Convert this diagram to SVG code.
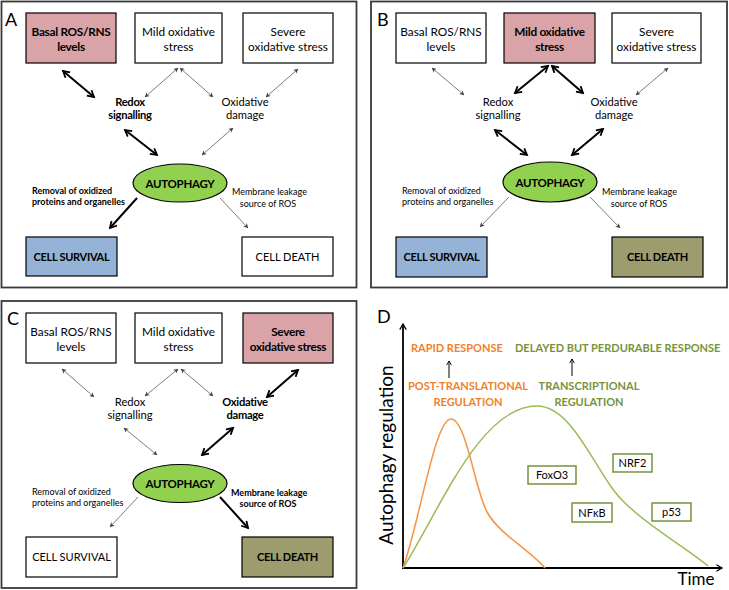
<svg xmlns="http://www.w3.org/2000/svg" width="729" height="590" viewBox="0 0 729 590">
<style>
text{font-family:Lato,"Open Sans","Liberation Sans",sans-serif;fill:#000}
.panel{fill:#fff;stroke:#3a3a3a;stroke-width:1.8}
.box{stroke:#000;stroke-width:1.2}
.w{fill:#fff}.pink{fill:#D9A3A7}.blue{fill:#95B3D7}.olive{fill:#9D9C6E}
.ell{fill:#92D050;stroke:#000;stroke-width:1.2}
.bt{font-size:11.8px;text-anchor:middle}
.ct{font-size:11px;text-anchor:middle}
.lb{font-size:11.2px;text-anchor:middle}
.sm{font-size:9px}
.b{font-weight:bold;letter-spacing:-0.3px}
.sm.b{letter-spacing:0}
.plab{font-size:18px}
.thin{stroke:#444;stroke-width:0.7;fill:none;marker-start:url(#hs);marker-end:url(#hs)}
.thick{stroke:#000;stroke-width:2;fill:none;marker-start:url(#hb);marker-end:url(#hb)}
.thin1{stroke:#444;stroke-width:0.7;fill:none;marker-end:url(#hs)}
.thick1{stroke:#000;stroke-width:2;fill:none;marker-end:url(#hb)}
.or{fill:#F07F2A}.gr{fill:#77933C}
.dt{font-size:11px;font-weight:bold}
.gbox{fill:#fff;stroke:#77933C;stroke-width:1.5}
</style>
<defs>
<marker id="hs" viewBox="0 0 10 10" refX="9" refY="5" markerWidth="5" markerHeight="5" markerUnits="userSpaceOnUse" orient="auto-start-reverse"><path d="M0,0 L10,5 L0,10 L3,5 z" fill="#444"/></marker>
<marker id="hb" viewBox="0 0 10 10" refX="8" refY="5" markerWidth="9" markerHeight="9" markerUnits="userSpaceOnUse" orient="auto-start-reverse"><path d="M1,1 L8,5 L1,9" fill="none" stroke="#000" stroke-width="2"/></marker>
<marker id="ax" viewBox="0 0 10 10" refX="8" refY="5" markerWidth="8" markerHeight="8" markerUnits="userSpaceOnUse" orient="auto"><path d="M1,1 L8,5 L1,9" fill="none" stroke="#000" stroke-width="1.6"/></marker>
<marker id="sa" viewBox="0 0 10 10" refX="8" refY="5" markerWidth="6" markerHeight="6" markerUnits="userSpaceOnUse" orient="auto"><path d="M1,1 L8,5 L1,9" fill="none" stroke="#000" stroke-width="1.5"/></marker>
</defs>

<!-- Panel A -->
<g id="panelA">
<rect class="panel" x="1.5" y="1.5" width="355" height="286"/>
<text class="plab" x="5" y="26">A</text>
<g id="A-basal"><rect class="box pink" x="26" y="13" width="90" height="50"/><text class="bt b" x="71" y="36">Basal ROS/RNS</text><text class="bt b" x="71" y="51">levels</text></g>
<g id="A-mild"><rect class="box w" x="135" y="13" width="87" height="50"/><text class="bt" x="178.5" y="36">Mild oxidative</text><text class="bt" x="178.5" y="51">stress</text></g>
<g id="A-severe"><rect class="box w" x="243" y="13" width="90" height="50"/><text class="bt" x="288" y="36">Severe</text><text class="bt" x="288" y="51">oxidative stress</text></g>
<g id="A-redox"><text class="lb b" x="130" y="105.5">Redox</text><text class="lb b" x="130" y="119">signalling</text></g>
<g id="A-damage"><text class="lb" x="245" y="105.5">Oxidative</text><text class="lb" x="245" y="119">damage</text></g>
<g id="A-autophagy"><ellipse class="ell" cx="180" cy="183" rx="47" ry="19"/><text class="b" x="180" y="187.5" font-size="11.5" text-anchor="middle">AUTOPHAGY</text></g>
<g id="A-removal"><text class="sm b" x="32" y="194">Removal of oxidized</text><text class="sm b" x="32" y="205">proteins and organelles</text></g>
<g id="A-membrane"><text class="sm" x="232" y="195">Membrane leakage</text><text class="sm" x="268" y="207" text-anchor="middle">source of ROS</text></g>
<g id="A-survival"><rect class="box blue" x="26" y="237" width="91" height="39"/><text class="ct b" x="71.5" y="260.5">CELL SURVIVAL</text></g>
<g id="A-death"><rect class="box w" x="242" y="237" width="91" height="39"/><text class="ct" x="287.5" y="260.5">CELL DEATH</text></g>
<g id="A-connectors">
<line class="thick" x1="63" y1="71" x2="94" y2="97"/>
<line class="thin" x1="178" y1="68" x2="145" y2="97"/>
<line class="thin" x1="180" y1="68" x2="213" y2="97"/>
<line class="thin" x1="298" y1="69" x2="266" y2="97"/>
<line class="thick" x1="125" y1="130" x2="157" y2="155"/>
<line class="thin" x1="233" y1="128" x2="202" y2="155"/>
<line class="thick1" x1="137" y1="198" x2="110" y2="228"/>
<line class="thin1" x1="220" y1="198" x2="248" y2="228"/>
</g>
</g>

<!-- Panel B -->
<g id="panelB">
<rect class="panel" x="371" y="1.5" width="356" height="286"/>
<text class="plab" x="377" y="26">B</text>
<g id="B-basal"><rect class="box w" x="396" y="13" width="90" height="50"/><text class="bt" x="441" y="36">Basal ROS/RNS</text><text class="bt" x="441" y="51">levels</text></g>
<g id="B-mild"><rect class="box pink" x="504" y="13" width="91" height="50"/><text class="bt b" x="549.5" y="36">Mild oxidative</text><text class="bt b" x="549.5" y="51">stress</text></g>
<g id="B-severe"><rect class="box w" x="612" y="13" width="89" height="50"/><text class="bt" x="656.5" y="36">Severe</text><text class="bt" x="656.5" y="51">oxidative stress</text></g>
<g id="B-redox"><text class="lb" x="498" y="105.5">Redox</text><text class="lb" x="498" y="119">signalling</text></g>
<g id="B-damage"><text class="lb" x="614" y="105.5">Oxidative</text><text class="lb" x="614" y="119">damage</text></g>
<g id="B-autophagy"><ellipse class="ell" cx="550" cy="182" rx="47" ry="20"/><text class="b" x="550" y="186.5" font-size="11.5" text-anchor="middle">AUTOPHAGY</text></g>
<g id="B-removal"><text class="sm" x="402" y="194">Removal of oxidized</text><text class="sm" x="402" y="205">proteins and organelles</text></g>
<g id="B-membrane"><text class="sm" x="602" y="195">Membrane leakage</text><text class="sm" x="639" y="207" text-anchor="middle">source of ROS</text></g>
<g id="B-survival"><rect class="box blue" x="396" y="237" width="91" height="40"/><text class="ct b" x="441.5" y="261">CELL SURVIVAL</text></g>
<g id="B-death"><rect class="box olive" x="612" y="237" width="91" height="40"/><text class="ct b" x="657.5" y="261">CELL DEATH</text></g>
<g id="B-connectors">
<line class="thin" x1="432" y1="68" x2="464" y2="95"/>
<line class="thick" x1="548" y1="66" x2="515" y2="93"/>
<line class="thick" x1="552" y1="66" x2="583" y2="93"/>
<line class="thin" x1="668" y1="68" x2="636" y2="95"/>
<line class="thick" x1="495" y1="130" x2="527" y2="155"/>
<line class="thick" x1="603" y1="129" x2="572" y2="155"/>
<line class="thin1" x1="509" y1="197" x2="480" y2="227"/>
<line class="thin1" x1="590" y1="197" x2="620" y2="228"/>
</g>
</g>

<!-- Panel C -->
<g id="panelC">
<rect class="panel" x="1.5" y="301" width="355" height="287"/>
<text class="plab" x="7" y="325">C</text>
<g id="C-basal"><rect class="box w" x="26" y="313" width="90" height="50"/><text class="bt" x="71" y="336">Basal ROS/RNS</text><text class="bt" x="71" y="351">levels</text></g>
<g id="C-mild"><rect class="box w" x="135" y="313" width="87" height="50"/><text class="bt" x="178.5" y="336">Mild oxidative</text><text class="bt" x="178.5" y="351">stress</text></g>
<g id="C-severe"><rect class="box pink" x="243" y="313" width="90" height="50"/><text class="bt b" x="288" y="336">Severe</text><text class="bt b" x="288" y="351">oxidative stress</text></g>
<g id="C-redox"><text class="lb" x="130" y="405.5">Redox</text><text class="lb" x="130" y="419">signalling</text></g>
<g id="C-damage"><text class="lb b" x="245" y="405.5">Oxidative</text><text class="lb b" x="245" y="419">damage</text></g>
<g id="C-autophagy"><ellipse class="ell" cx="180" cy="483.5" rx="47" ry="19"/><text class="b" x="180" y="488" font-size="11.5" text-anchor="middle">AUTOPHAGY</text></g>
<g id="C-removal"><text class="sm" x="32" y="495">Removal of oxidized</text><text class="sm" x="32" y="506">proteins and organelles</text></g>
<g id="C-membrane"><text class="sm b" x="231" y="496">Membrane leakage</text><text class="sm b" x="268" y="507" text-anchor="middle">source of ROS</text></g>
<g id="C-survival"><rect class="box w" x="26" y="537" width="91" height="40"/><text class="ct" x="71.5" y="561">CELL SURVIVAL</text></g>
<g id="C-death"><rect class="box olive" x="242" y="537" width="91" height="40"/><text class="ct b" x="287.5" y="561">CELL DEATH</text></g>
<g id="C-connectors">
<line class="thin" x1="62" y1="369" x2="94" y2="397"/>
<line class="thin" x1="178" y1="369" x2="145" y2="396"/>
<line class="thin" x1="181" y1="369" x2="213" y2="396"/>
<line class="thick" x1="298" y1="370" x2="267" y2="397"/>
<line class="thin" x1="124" y1="428" x2="157" y2="455"/>
<line class="thick" x1="233" y1="428" x2="202" y2="455"/>
<line class="thin1" x1="138" y1="497" x2="110" y2="527"/>
<line class="thick1" x1="220" y1="497" x2="248" y2="528"/>
</g>
</g>

<!-- Panel D -->
<g id="panelD">
<text class="plab" x="377" y="323">D</text>
<g id="D-axes">
<line x1="403" y1="568" x2="403" y2="324" stroke="#000" stroke-width="1.8" marker-end="url(#ax)"/>
<line x1="402" y1="568" x2="722" y2="568" stroke="#000" stroke-width="1.8" marker-end="url(#ax)"/>
</g>
<text x="387" y="455" font-size="19" text-anchor="middle" transform="rotate(-90 387 455)" dy="6">Autophagy regulation</text>
<text x="696" y="585" font-size="17" text-anchor="middle">Time</text>
<g id="D-curves">
<path d="M403,568 C420,520 435,419 451,419 C466,419 475,490 487,512 C500,535 530,550 545,568" fill="none" stroke="#F79646" stroke-width="1.6"/>
<path d="M403,568 C440,510 480,406 537,406 C575,406 597,478 625,503 C650,528 690,550 708,566" fill="none" stroke="#9BBB59" stroke-width="1.5"/>
</g>
<g id="D-rapid"><text class="dt or" x="411" y="352">RAPID RESPONSE</text></g>
<g id="D-delayed"><text class="dt gr" x="515" y="352">DELAYED BUT PERDURABLE RESPONSE</text></g>
<g id="D-post"><text class="dt or" x="468" y="390" text-anchor="middle">POST-TRANSLATIONAL</text><text class="dt or" x="468" y="406" text-anchor="middle">REGULATION</text></g>
<g id="D-trans"><text class="dt gr" x="589" y="390" text-anchor="middle">TRANSCRIPTIONAL</text><text class="dt gr" x="589" y="406" text-anchor="middle">REGULATION</text></g>
<g id="D-arrows">
<line x1="449" y1="378" x2="449" y2="361" stroke="#000" stroke-width="1" marker-end="url(#sa)"/>
<line x1="572" y1="376" x2="572" y2="359" stroke="#000" stroke-width="1" marker-end="url(#sa)"/>
</g>
<g id="D-foxo3"><rect class="gbox" x="528" y="466" width="48" height="18"/><text x="552" y="479" font-size="11" text-anchor="middle">FoxO3</text></g>
<g id="D-nrf2"><rect class="gbox" x="613" y="454" width="39" height="18"/><text x="632.5" y="467" font-size="11" text-anchor="middle">NRF2</text></g>
<g id="D-nfkb"><rect class="gbox" x="572" y="503" width="40" height="19"/><text x="592" y="516.5" font-size="11" text-anchor="middle">NFκB</text></g>
<g id="D-p53"><rect class="gbox" x="652" y="503" width="39" height="18"/><text x="671.5" y="516" font-size="11" text-anchor="middle">p53</text></g>
</g>
</svg>
